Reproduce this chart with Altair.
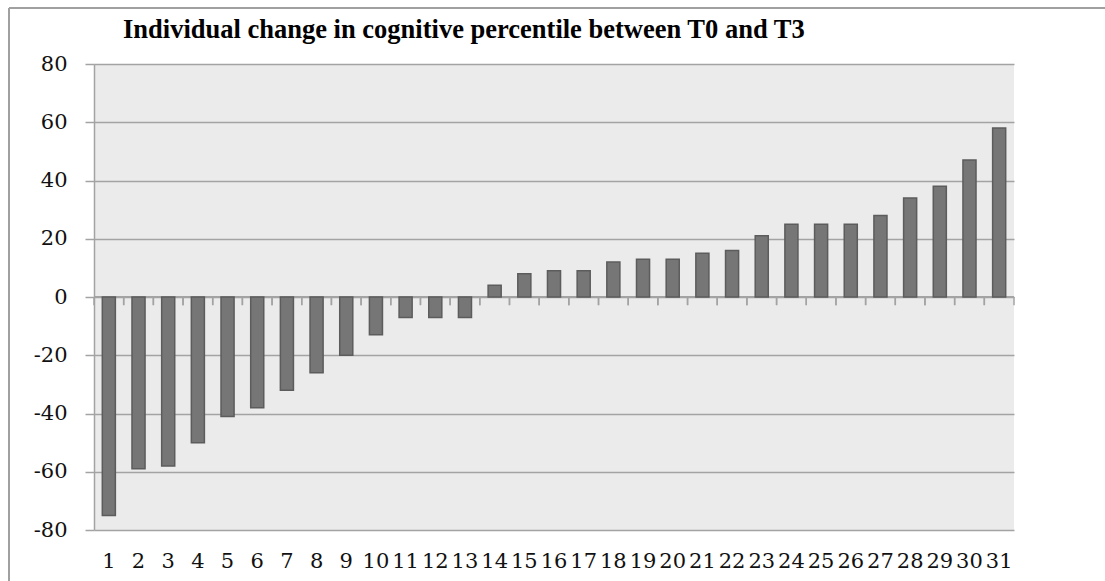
import altair as alt
import pandas as pd

# Participants (sorted by change) and their change in cognitive percentile, T0 -> T3
participant = ["1", "2", "3", "4", "5", "6", "7", "8", "9", "10",
               "11", "12", "13", "14", "15", "16", "17", "18", "19", "20",
               "21", "22", "23", "24", "25", "26", "27", "28", "29", "30", "31"]
change = [-75, -59, -58, -50, -41, -38, -32, -26, -20, -13,
          -7, -7, -7, 4, 8, 9, 9, 12, 13, 13,
          15, 16, 21, 25, 25, 25, 28, 34, 38, 47, 58]
y_ticks = [-80, -60, -40, -20, 0, 20, 40, 60, 80]
title_text = "Individual change in cognitive percentile between T0 and T3"

df = pd.DataFrame({"participant": participant, "change": change})
one = pd.DataFrame({"k": [0]})

GRID = "#a3a3a3"
FONT = "DejaVu Serif"

x_scale = alt.Scale(domain=participant, paddingInner=0, paddingOuter=0)
y_scale = alt.Scale(domain=[-80, 80], nice=False)

base = alt.Chart(df)

bars = base.mark_bar(
    width=alt.RelativeBandSize(0.44),
    color="#767676",
    stroke="#5c5c5c",
    strokeWidth=1.5,
).encode(
    x=alt.X("participant:N", sort=participant, scale=x_scale,
            axis=alt.Axis(title=None, labelAngle=0, domain=False, ticks=False,
                          labelPadding=20, labelFont=FONT, labelFontSize=21,
                          labelColor="#111111", labelOverlap=False)),
    y=alt.Y("change:Q", scale=y_scale,
            axis=alt.Axis(title=None, values=y_ticks, grid=True, gridColor=GRID,
                          gridWidth=1.5, domainColor=GRID, domainWidth=1.5,
                          tickColor=GRID, tickWidth=1.5, tickSize=9,
                          labelPadding=18, labelFont=FONT, labelFontSize=21,
                          labelColor="#111111", labelExpr="datum.value")),
)

# horizontal category axis at zero
zero_line = base.mark_rule(color=GRID, strokeWidth=1.5).encode(
    y=alt.datum(0)
)

# small ticks hanging below zero at every category boundary
tick_start = base.mark_rule(color=GRID, strokeWidth=1.5).encode(
    x=alt.X("participant:N", sort=participant, scale=x_scale, bandPosition=0),
    y=alt.datum(0),
    y2=alt.datum(-2.8),
)
tick_end = base.mark_rule(color=GRID, strokeWidth=1.5).encode(
    x=alt.X("participant:N", sort=participant, scale=x_scale, bandPosition=1),
    y=alt.datum(0),
    y2=alt.datum(-2.8),
)

# chart title
title = alt.Chart(one).mark_text(
    text=title_text, font="Liberation Serif", fontSize=26.5, fontWeight="bold",
    color="#000000", align="left", baseline="alphabetic",
).encode(x=alt.value(29), y=alt.value(-26))

# outer frame around the figure (left and top edges)
frame_left = alt.Chart(one).mark_rule(color="#a0a0a0", strokeWidth=2).encode(
    x=alt.value(-85), y=alt.value(-56), y2=alt.value(600)
)
frame_top = alt.Chart(one).mark_rule(color="#a0a0a0", strokeWidth=2).encode(
    x=alt.value(-85), x2=alt.value(1100), y=alt.value(-56)
)

chart = alt.layer(
    zero_line, bars, tick_start, tick_end, title, frame_left, frame_top
).properties(
    width=920,
    height=466,
    padding={"left": 94, "top": 64, "right": 91, "bottom": 51},
    autosize=alt.AutoSizeParams(type="none"),
    background="white",
).configure_view(
    fill="#ebebeb", stroke=None
)

chart.save("out.html", embed_options={"renderer": "svg", "actions": False})
